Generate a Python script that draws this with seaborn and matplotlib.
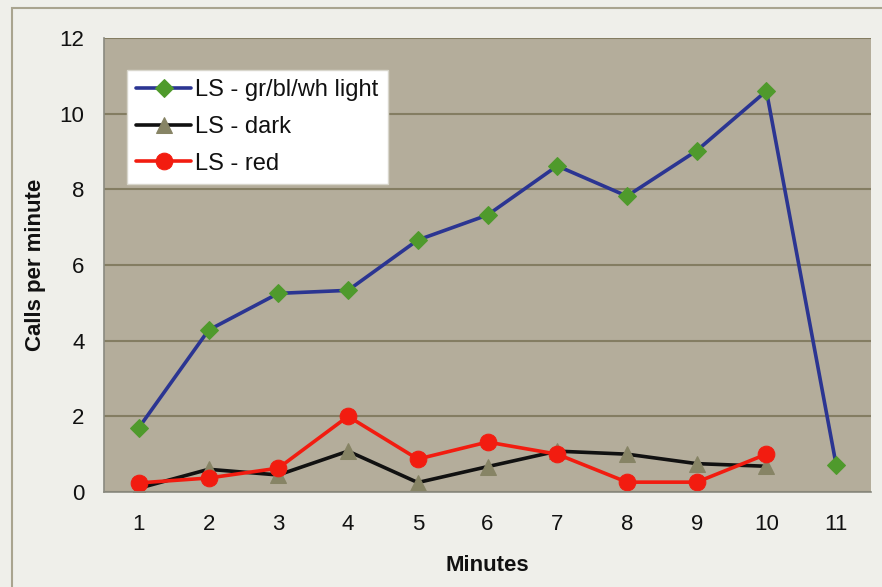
import numpy as np
import pandas as pd
import matplotlib.pyplot as plt
import seaborn as sns
from matplotlib.patches import Rectangle

# data
minutes = [1, 2, 3, 4, 5, 6, 7, 8, 9, 10, 11]
light = [1.70, 4.28, 5.25, 5.33, 6.66, 7.32, 8.62, 7.82, 9.02, 10.6, 0.72]
dark_min = [1, 2, 3, 4, 5, 6, 7, 8, 9, 10]
dark = [0.10, 0.60, 0.45, 1.08, 0.25, 0.67, 1.08, 1.00, 0.75, 0.68]
red_min = [1, 2, 3, 4, 5, 6, 7, 8, 9, 10]
red = [0.24, 0.37, 0.63, 2.00, 0.87, 1.32, 1.00, 0.26, 0.26, 1.00]

sns.set_style("white")
plt.rcParams["font.family"] = ["Liberation Sans", "DejaVu Sans"]
plt.rcParams["text.color"] = "#111111"
plt.rcParams["axes.labelcolor"] = "#111111"
plt.rcParams["xtick.labelcolor"] = "#111111"
plt.rcParams["ytick.labelcolor"] = "#111111"

fig = plt.figure(figsize=(8.82, 5.87), dpi=100, facecolor="#efefea")
ax = fig.add_axes([104 / 882, 95 / 587, 767 / 882, 454 / 587])
ax.set_facecolor("#b4ad9b")

# border around the whole chart (runs off right and bottom edges)
fig.patches.append(Rectangle((12 / 882, -0.05), 0.99, 1 - 8 / 587 + 0.05,
                             transform=fig.transFigure, fill=False,
                             edgecolor="#a9a48f", linewidth=1.5))

sns.lineplot(x=minutes, y=light, ax=ax, color="#2b3592", lw=2.6,
             marker="D", markersize=9, markerfacecolor="#4f9a2c",
             markeredgecolor="#4f9a2c", label="LS - gr/bl/wh light")
sns.lineplot(x=dark_min, y=dark, ax=ax, color="#111111", lw=2.6,
             marker="^", markersize=12, markerfacecolor="#878465",
             markeredgecolor="#878465", label="LS - dark")
sns.lineplot(x=red_min, y=red, ax=ax, color="#f21c10", lw=2.6,
             marker="o", markersize=12, markerfacecolor="#f21c10",
             markeredgecolor="#f21c10", label="LS - red")

ax.set_xlim(0.5, 11.5)
ax.set_ylim(0, 12)
ax.set_yticks(range(0, 13, 2))
ax.set_xticks(minutes)
ax.set_xticks(np.arange(0.5, 12, 1), minor=True)
ax.tick_params(axis="x", which="major", length=0, pad=16, labelsize=16)
ax.tick_params(axis="x", which="minor", length=6, color="#8a8a80", direction="out")
ax.tick_params(axis="y", length=6, color="#8a8a80", direction="out", labelsize=16, pad=8)
ax.yaxis.grid(True, color="#847d62", lw=1.5)
ax.set_axisbelow(True)

for side in ["top", "right"]:
    ax.spines[side].set_visible(False)
for side in ["left", "bottom"]:
    ax.spines[side].set_color("#8a8a80")
    ax.spines[side].set_linewidth(1.2)

ax.set_xlabel("Minutes", fontsize=16, fontweight="bold", labelpad=14)
ax.set_ylabel("Calls per minute", fontsize=16, fontweight="bold", labelpad=10)

leg = ax.legend(loc="upper left", bbox_to_anchor=(0.030, 0.930), fontsize=17,
                handlelength=2.3, handletextpad=0.2, labelspacing=0.62,
                borderpad=0.4, borderaxespad=0, frameon=True, fancybox=False)
leg.get_frame().set_facecolor("white")
leg.get_frame().set_alpha(1)
leg.get_frame().set_edgecolor("#d8d6cc")

fig.savefig("out.png", dpi=100, facecolor=fig.get_facecolor())
